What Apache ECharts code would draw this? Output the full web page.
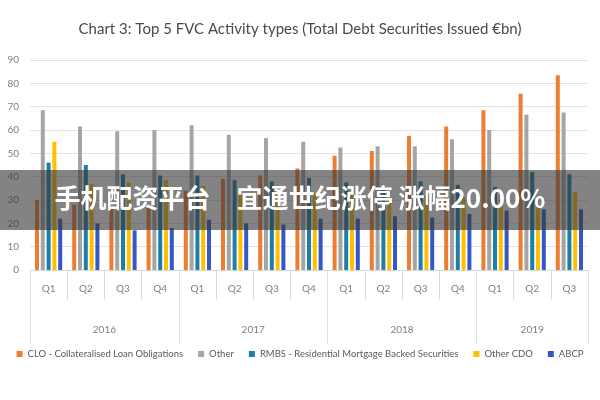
<!DOCTYPE html>
<html>
<head>
<meta charset="utf-8">
<script src="https://cdn.jsdelivr.net/npm/echarts@6/dist/echarts.min.js"></script>
<style>html,body{margin:0;padding:0;background:#fff}#c{width:600px;height:400px}</style>
</head>
<body>
<div id="c"></div>
<script>
var quarters = ['Q1','Q2','Q3','Q4','Q1','Q2','Q3','Q4','Q1','Q2','Q3','Q4','Q1','Q2','Q3'];
var years = ['2016','2017','2018','2019'];
var quartersPerYear = [4,4,4,3];
var seriesNames = ['CLO - Collateralised Loan Obligations','Other','RMBS - Residential Mortgage Backed Securities','Other CDO','ABCP'];
var clo      = [30, 28, 27, 27, 34, 39, 40.5, 43.5, 49, 51, 57.5, 61.5, 68.5, 75.5, 83.5];
var other    = [68.5, 61.5, 59.5, 60, 62, 58, 56.5, 55, 52.5, 53, 53, 56, 60, 66.5, 67.5];
var rmbs     = [46, 45, 41, 40.5, 40.5, 38.5, 38, 39.5, 37.5, 36, 38, 36.5, 35.5, 42, 41];
var otherCdo = [55, 37, 37.5, 38.5, 36, 32, 34, 33, 33, 30, 32, 31, 30, 27, 33.5];
var abcp     = [22, 20, 17, 18, 21.5, 20, 19.5, 22, 22, 23, 22.5, 24, 25.5, 26, 26];
var yTicks = [0, 90, 10];
var title = 'Chart 3: Top 5 FVC Activity types (Total Debt Securities Issued €bn)';
var bannerText = '手机配资平台　宜通世纪涨停 涨幅20.00%';

var colors = ['#ED7D31', '#A5A5A5', '#1B7FA6', '#FFC000', '#3558C4'];
var values = [clo, other, rmbs, otherCdo, abcp];

// build year slots (2 slots per quarter, boundaryGap false)
var slotCount = quarters.length * 2 + 1;
var yearSlots = [];
for (var i = 0; i < slotCount; i++) yearSlots.push('');
var boundarySlots = {0: true};
var cum = 0;
for (var y = 0; y < years.length; y++) {
  var start = cum * 2;
  yearSlots[start + quartersPerYear[y]] = years[y];
  cum += quartersPerYear[y];
  boundarySlots[cum * 2] = true;
}

var font = 'Lato, "Open Sans", sans-serif';
var chart = echarts.init(document.getElementById('c'), null, {renderer: 'canvas'});
var series = values.map(function (v, k) {
  return {
    name: seriesNames[k], type: 'bar', data: v, xAxisIndex: 0,
    barWidth: 4, barGap: '45%',
    itemStyle: {color: colors[k]}, emphasis: {disabled: true}
  };
});
chart.setOption({
  animation: false,
  color: colors,
  title: {
    text: title, left: 'center', top: 17,
    textStyle: {fontFamily: font, fontSize: 15, fontWeight: 'normal', color: '#4a4a4a'}
  },
  legend: {
    bottom: 36, left: 'center', itemWidth: 6, itemHeight: 6, icon: 'rect', itemGap: 15,
    textStyle: {fontFamily: font, fontSize: 9.5, color: '#595959'},
    data: seriesNames
  },
  grid: {left: 30, right: 12, top: 60, bottom: 130},
  xAxis: [{
    type: 'category', data: quarters, position: 'bottom',
    axisLine: {lineStyle: {color: '#d9d9d9'}},
    axisTick: {show: true, interval: 0, length: 30, lineStyle: {color: '#d9d9d9'}},
    axisLabel: {color: '#7f7f7f', fontFamily: font, fontSize: 10, margin: 14, interval: 0}
  }, {
    type: 'category', data: yearSlots, position: 'bottom', boundaryGap: false,
    axisLine: {show: false},
    axisTick: {show: true, length: 74, lineStyle: {color: '#e0e0e0'},
      interval: function (idx) { return !!boundarySlots[idx]; }},
    axisLabel: {color: '#7f7f7f', fontFamily: font, fontSize: 10, margin: 55,
      interval: function (idx, val) { return val !== ''; }}
  }],
  yAxis: {
    type: 'value', min: yTicks[0], max: yTicks[1], interval: yTicks[2],
    axisLine: {show: false}, axisTick: {show: false},
    axisLabel: {color: '#7f7f7f', fontFamily: font, fontSize: 10, margin: 11},
    splitLine: {lineStyle: {color: '#e3e3e3', width: 1}}
  },
  series: series,
  graphic: [{
    type: 'rect', left: 0, top: 170, z: 100,
    shape: {width: 600, height: 60},
    style: {fill: 'rgba(55,55,55,0.62)'}
  }, {
    type: 'text', left: 'center', top: 185, z: 101,
    style: {text: bannerText, fill: '#ffffff',
      font: 'bold 26px "Noto Sans CJK SC", "Noto Sans", sans-serif'}
  }]
});
</script>
</body>
</html>
